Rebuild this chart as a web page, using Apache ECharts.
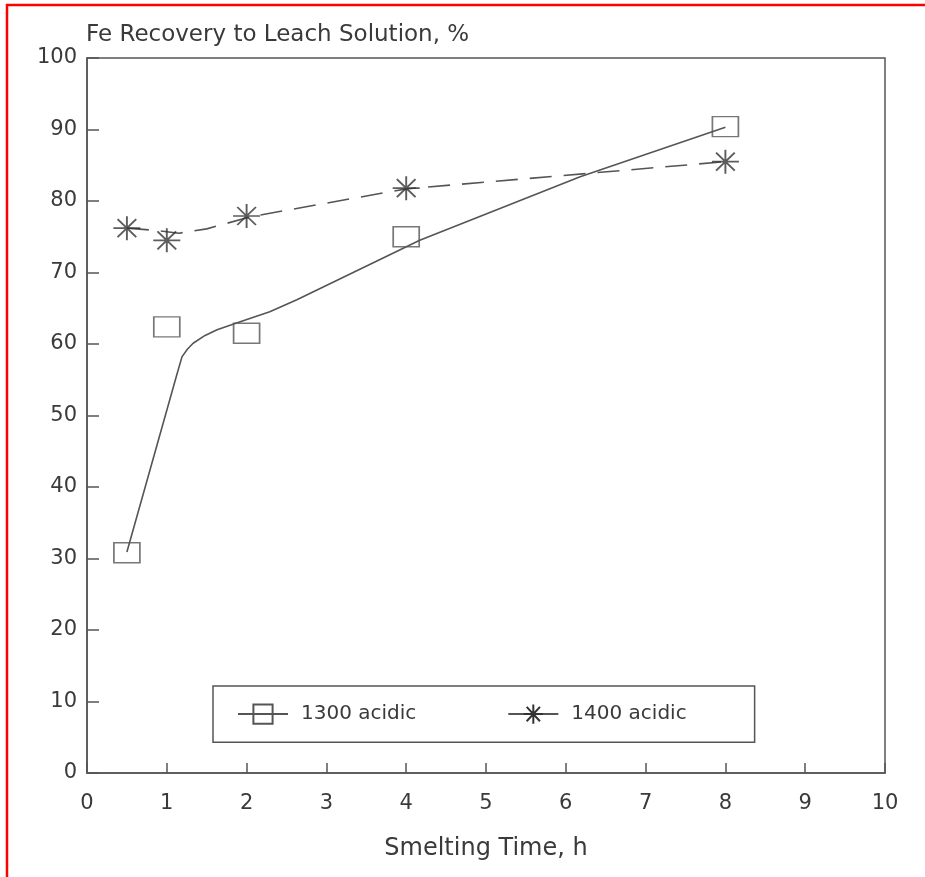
<!DOCTYPE html>
<html><head><meta charset="utf-8">
<script src="https://cdn.jsdelivr.net/npm/echarts@6/dist/echarts.min.js"></script>
<style>html,body{margin:0;padding:0;background:#fff}#c{width:925px;height:877px}</style>
</head><body><div id="c"></div>
<script>
// Measured data points
const time1300 = [0.5, 1, 2, 4, 8];
const rec1300 = [30.8, 62.4, 61.5, 75.0, 90.4];
const time1400 = [0.5, 1, 2, 4, 8];
const rec1400 = [76.2, 74.5, 77.9, 81.8, 85.5];
// Fitted curves as drawn in the figure
const fitTime1300 = [0.5, 1.12, 1.19, 1.26, 1.33, 1.48, 1.63, 1.92, 2.29, 2.63, 4.17, 6.18, 8];
const fitRec1300 = [30.9, 55.5, 58.2, 59.3, 60.1, 61.2, 62.0, 63.1, 64.5, 66.2, 74.5, 83.4, 90.3];
const fitTime1400 = [0.5, 0.85, 1.15, 1.5, 2.05, 4, 8];
const fitRec1400 = [76.2, 75.9, 75.5, 76.1, 77.8, 81.7, 85.5];
const seriesNames = ['1300 acidic', '1400 acidic'];
const titleText = 'Fe Recovery to Leach Solution, %';
const xName = 'Smelting Time, h';

const FONT = 'DejaVu Sans';
const INK = '#555';
const TXT = '#3a3a3a';
const STAR = 'path://M0,12L26,12M13,0L13,24M4,3L22,21M4,21L22,3';
const zip = (a, b) => a.map((v, i) => [v, b[i]]);

const chart = echarts.init(document.getElementById('c'));
chart.setOption({
  animation: false,
  backgroundColor: '#fff',
  title: {
    text: titleText, left: 86, top: 24, padding: 0,
    textStyle: {fontFamily: FONT, fontSize: 23, fontWeight: 'normal', color: TXT}
  },
  grid: {left: 87, right: 40, top: 58, bottom: 104, show: true, borderColor: INK, borderWidth: 1.5},
  xAxis: {
    type: 'value', min: 0, max: 10, interval: 1,
    axisLine: {show: true, onZero: false, lineStyle: {color: INK, width: 1.5}},
    axisTick: {show: true, inside: true, length: 10, lineStyle: {color: INK, width: 1.5}},
    splitLine: {show: false},
    axisLabel: {margin: 20, fontFamily: FONT, fontSize: 21, color: TXT},
    name: xName, nameLocation: 'middle', nameGap: 64,
    nameTextStyle: {fontFamily: FONT, fontSize: 24, color: TXT}
  },
  yAxis: {
    type: 'value', min: 0, max: 100, interval: 10,
    axisLine: {show: true, onZero: false, lineStyle: {color: INK, width: 1.5}},
    axisTick: {show: true, inside: true, length: 12, lineStyle: {color: INK, width: 1.5}},
    splitLine: {show: false},
    axisLabel: {margin: 10, fontFamily: FONT, fontSize: 21, color: TXT}
  },
  legend: {
    data: seriesNames,
    left: 213, top: 686, orient: 'horizontal',
    padding: [16, 68, 16, 24],
    itemWidth: 50, itemHeight: 24, itemGap: 91,
    borderColor: INK, borderWidth: 1.5,
    lineStyle: {type: 'solid'},
    textStyle: {fontFamily: FONT, fontSize: 20, color: TXT, padding: [0, 0, 0, 8]}
  },
  series: [
    {
      name: seriesNames[0], type: 'line', data: zip(fitTime1300, fitRec1300),
      symbol: 'rect', symbolSize: [26, 20], showSymbol: false,
      lineStyle: {color: INK, width: 1.6, type: 'solid'},
      itemStyle: {color: 'rgba(255,255,255,0)', borderColor: INK, borderWidth: 1.5}
    },
    {
      name: '1300 points', type: 'scatter', data: zip(time1300, rec1300),
      symbol: 'rect', symbolSize: [26, 20], z: 3,
      itemStyle: {color: 'rgba(255,255,255,0)', borderColor: INK, borderWidth: 1.5}
    },
    {
      name: seriesNames[1], type: 'line', data: zip(fitTime1400, fitRec1400),
      symbol: STAR, symbolSize: [20, 20], showSymbol: false,
      lineStyle: {color: INK, width: 1.6, type: [22, 12]},
      itemStyle: {color: 'none', borderColor: '#333', borderWidth: 1.6}
    },
    {
      name: '1400 points', type: 'scatter', data: zip(time1400, rec1400),
      symbol: STAR, symbolSize: [27, 24], z: 3,
      itemStyle: {color: 'none', borderColor: '#333', borderWidth: 1.8}
    }
  ],
  graphic: [
    {type: 'line', shape: {x1: 6, y1: 5, x2: 925, y2: 5}, style: {stroke: '#f00', lineWidth: 2.5}, z: 100},
    {type: 'line', shape: {x1: 7, y1: 4, x2: 7, y2: 877}, style: {stroke: '#f00', lineWidth: 2.5}, z: 100}
  ]
});
</script>
</body></html>
